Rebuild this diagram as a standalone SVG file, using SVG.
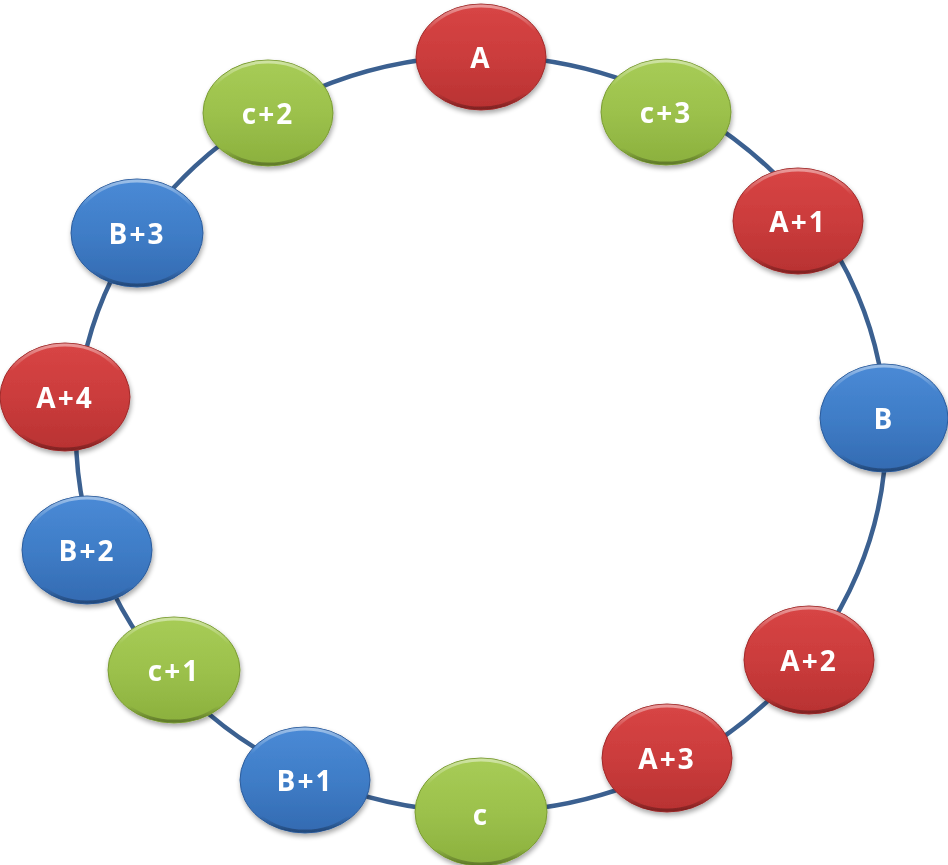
<svg xmlns="http://www.w3.org/2000/svg" width="948" height="865" viewBox="0 0 948 865">
  <defs>
    <linearGradient id="gRed" x1="0" y1="0" x2="0" y2="1">
      <stop offset="0" stop-color="#D84545"/>
      <stop offset="0.5" stop-color="#CB3C3C"/>
      <stop offset="1" stop-color="#B83232"/>
    </linearGradient>
    <linearGradient id="gGreen" x1="0" y1="0" x2="0" y2="1">
      <stop offset="0" stop-color="#A7CC56"/>
      <stop offset="0.5" stop-color="#9CC14C"/>
      <stop offset="1" stop-color="#8BB03D"/>
    </linearGradient>
    <linearGradient id="gBlue" x1="0" y1="0" x2="0" y2="1">
      <stop offset="0" stop-color="#4A8AD6"/>
      <stop offset="0.5" stop-color="#3F7DC7"/>
      <stop offset="1" stop-color="#336AB1"/>
    </linearGradient>
    <linearGradient id="gBevel" x1="0" y1="0" x2="0" y2="1">
      <stop offset="0" stop-color="#ffffff" stop-opacity="0.45"/>
      <stop offset="0.25" stop-color="#ffffff" stop-opacity="0"/>
      <stop offset="0.85" stop-color="#000000" stop-opacity="0"/>
      <stop offset="1" stop-color="#000000" stop-opacity="0.3"/>
    </linearGradient>
    <filter id="shadow" x="-20%" y="-20%" width="140%" height="150%">
      <feGaussianBlur in="SourceAlpha" stdDeviation="2.5"/>
      <feOffset dx="1" dy="3" result="b"/>
      <feComponentTransfer><feFuncA type="linear" slope="0.35"/></feComponentTransfer>
      <feMerge><feMergeNode/><feMergeNode in="SourceGraphic"/></feMerge>
    </filter>
  </defs>
  <style>
    .ring { fill: none; stroke: #3B6090; stroke-width: 4.5; }
    .node { filter: url(#shadow); }
    .red { fill: url(#gRed); stroke: #A02B2B; stroke-width: 1; }
    .green { fill: url(#gGreen); stroke: #7A9C33; stroke-width: 1; }
    .blue { fill: url(#gBlue); stroke: #2C5C9C; stroke-width: 1; }
    .bevel { fill: none; stroke: url(#gBevel); stroke-width: 3; }
    .label { font-family: "Open Sans", "Liberation Sans", sans-serif; font-weight: 700; font-size: 28px; fill: #ffffff; text-anchor: middle; dominant-baseline: central; letter-spacing: 2px; }
  </style>

  <!-- ring connecting all nodes -->
  <g id="connectors">
    <ellipse class="ring" cx="481" cy="434" rx="405" ry="378"/>
  </g>

  <g id="node-A" class="node">
    <ellipse class="red" cx="481" cy="57" rx="65" ry="53"/>
    <ellipse class="bevel" cx="481" cy="57" rx="63" ry="51"/>
    <text class="label" x="481" y="57">A</text>
  </g>
  <g id="node-C3" class="node">
    <ellipse class="green" cx="666" cy="112" rx="65" ry="53"/>
    <ellipse class="bevel" cx="666" cy="112" rx="63" ry="51"/>
    <text class="label" x="666" y="112">c+3</text>
  </g>
  <g id="node-A1" class="node">
    <ellipse class="red" cx="798" cy="221" rx="65" ry="53"/>
    <ellipse class="bevel" cx="798" cy="221" rx="63" ry="51"/>
    <text class="label" x="798" y="221">A+1</text>
  </g>
  <g id="node-B" class="node">
    <ellipse class="blue" cx="884" cy="418" rx="64" ry="54"/>
    <ellipse class="bevel" cx="884" cy="418" rx="62" ry="52"/>
    <text class="label" x="884" y="418">B</text>
  </g>
  <g id="node-A2" class="node">
    <ellipse class="red" cx="809" cy="660" rx="65" ry="54"/>
    <ellipse class="bevel" cx="809" cy="660" rx="63" ry="52"/>
    <text class="label" x="809" y="660">A+2</text>
  </g>
  <g id="node-A3" class="node">
    <ellipse class="red" cx="667" cy="758" rx="65" ry="54"/>
    <ellipse class="bevel" cx="667" cy="758" rx="63" ry="52"/>
    <text class="label" x="667" y="758">A+3</text>
  </g>
  <g id="node-C" class="node">
    <ellipse class="green" cx="481" cy="812" rx="66" ry="54"/>
    <ellipse class="bevel" cx="481" cy="812" rx="64" ry="52"/>
    <text class="label" x="481" y="814">c</text>
  </g>
  <g id="node-B1" class="node">
    <ellipse class="blue" cx="305" cy="780" rx="65" ry="53"/>
    <ellipse class="bevel" cx="305" cy="780" rx="63" ry="51"/>
    <text class="label" x="305" y="780">B+1</text>
  </g>
  <g id="node-C1" class="node">
    <ellipse class="green" cx="174" cy="670" rx="66" ry="53"/>
    <ellipse class="bevel" cx="174" cy="670" rx="64" ry="51"/>
    <text class="label" x="174" y="670">c+1</text>
  </g>
  <g id="node-B2" class="node">
    <ellipse class="blue" cx="87" cy="550" rx="65" ry="54"/>
    <ellipse class="bevel" cx="87" cy="550" rx="63" ry="52"/>
    <text class="label" x="87" y="550">B+2</text>
  </g>
  <g id="node-A4" class="node">
    <ellipse class="red" cx="65" cy="397" rx="65" ry="54"/>
    <ellipse class="bevel" cx="65" cy="397" rx="63" ry="52"/>
    <text class="label" x="65" y="397">A+4</text>
  </g>
  <g id="node-B3" class="node">
    <ellipse class="blue" cx="137" cy="233" rx="66" ry="54"/>
    <ellipse class="bevel" cx="137" cy="233" rx="64" ry="52"/>
    <text class="label" x="137" y="233">B+3</text>
  </g>
  <g id="node-C2" class="node">
    <ellipse class="green" cx="268" cy="113" rx="65" ry="53"/>
    <ellipse class="bevel" cx="268" cy="113" rx="63" ry="51"/>
    <text class="label" x="268" y="113">c+2</text>
  </g>
</svg>
